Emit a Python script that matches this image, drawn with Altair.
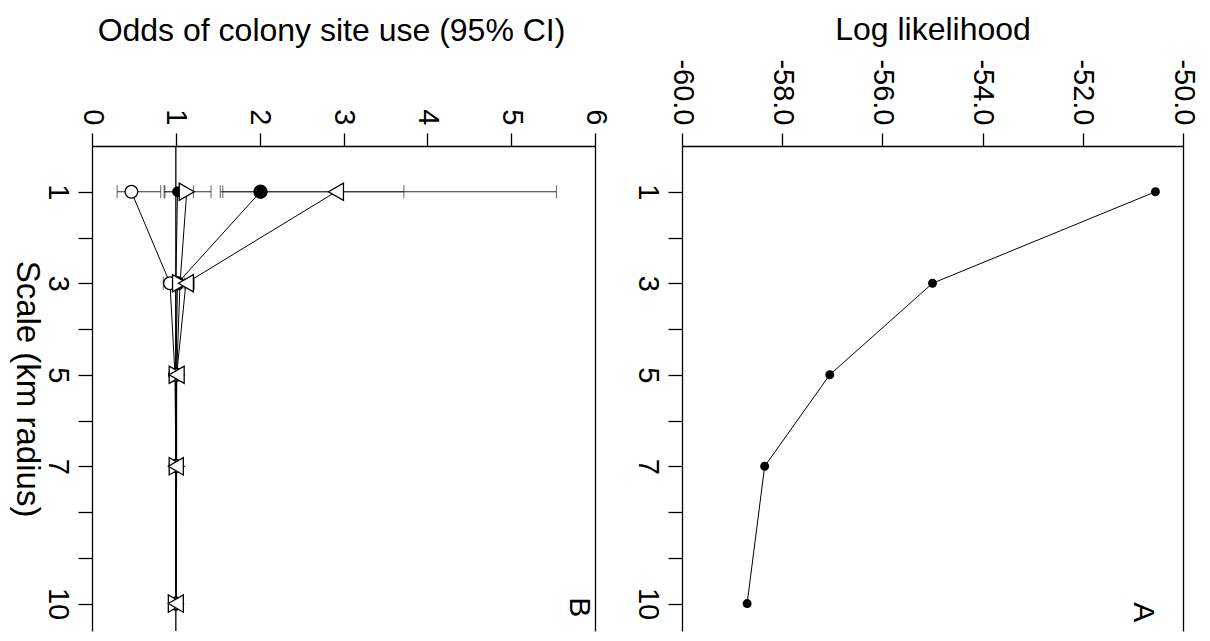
import altair as alt
import pandas as pd

FONT = "Liberation Sans"

# ---------------- data ----------------
scales = [1, 3, 5, 7, 10]

# Panel A: log likelihood by scale
loglik = [-50.55, -55.0, -57.05, -58.35, -58.7]

# Panel B: odds of colony site use (95% CI) per variable and scale
# (listed in drawing order: filled markers first, open markers on top)
series_names = ["V1", "V5", "V2", "V4", "V3"]
odds_v1 = [2.01, 1.02, 1.00, 1.00, 1.00]   # filled large circle
lo_v1 = [1.56, 0.95, 0.98, 0.99, 0.99]
hi_v1 = [3.72, 1.10, 1.03, 1.02, 1.01]
odds_v5 = [1.02, 1.00, 1.00, 1.00, 1.00]   # small filled circle
lo_v5 = [0.86, 0.95, 0.97, 0.98, 0.99]
hi_v5 = [1.21, 1.06, 1.03, 1.02, 1.01]
odds_v2 = [0.47, 0.93, 0.99, 1.00, 1.00]   # open circle
lo_v2 = [0.30, 0.85, 0.96, 0.98, 0.99]
hi_v2 = [0.82, 1.02, 1.02, 1.02, 1.01]
odds_v4 = [1.13, 1.05, 1.01, 1.01, 1.00]   # open triangle (right)
lo_v4 = [0.87, 0.96, 0.98, 0.99, 0.99]
hi_v4 = [1.42, 1.15, 1.04, 1.03, 1.01]
odds_v3 = [2.91, 1.12, 1.01, 1.00, 1.00]   # open triangle (left)
lo_v3 = [1.53, 1.02, 0.98, 0.98, 0.99]
hi_v3 = [5.54, 1.22, 1.04, 1.02, 1.01]

series_shapes = ["circle", "circle", "circle", "triangle-right", "triangle-left"]
series_fills = ["black", "black", "white", "white", "white"]
series_sizes = [170, 90, 160, 300, 300]

reference_odds = [1]

panel_letters_a = ["A"]
letter_a_x = [-50.8]
letter_a_y = [10.19]
panel_letters_b = ["B"]
letter_b_x = [5.81]
letter_b_y = [10.08]

a_ticks = [-60, -58, -56, -54, -52, -50]
b_ticks = [0, 1, 2, 3, 4, 5, 6]
scale_ticks = [1, 2, 3, 4, 5, 6, 7, 8, 9, 10]

# ---------------- tables ----------------
df_a = pd.DataFrame({"scale": scales, "ll": loglik})

all_odds = [odds_v1, odds_v5, odds_v2, odds_v4, odds_v3]
all_lo = [lo_v1, lo_v5, lo_v2, lo_v4, lo_v3]
all_hi = [hi_v1, hi_v5, hi_v2, hi_v4, hi_v3]
rows = []
for name, o, l, h in zip(series_names, all_odds, all_lo, all_hi):
    for s, ov, lv, hv in zip(scales, o, l, h):
        rows.append({"series": name, "scale": s, "odds": ov, "lo": lv, "hi": hv})
df_b = pd.DataFrame(rows)
df_ref = pd.DataFrame({"odds": reference_odds})
df_la = pd.DataFrame({"t": panel_letters_a, "x": letter_a_x, "y": letter_a_y})
df_lb = pd.DataFrame({"t": panel_letters_b, "x": letter_b_x, "y": letter_b_y})

W_B = 503
W_A = 501
H = 485
Y_DOMAIN = [0, 10.6]

LABEL_FS = 29
TITLE_FS = 32

Y_SCALE = alt.Scale(domain=Y_DOMAIN, nice=False, zero=False, reverse=True)


def y_left(title):
    return alt.Y(
        "scale:Q",
        scale=Y_SCALE,
        axis=alt.Axis(
            orient="left",
            values=scale_ticks,
            labelExpr="(datum.value == 1 || datum.value == 3 || datum.value == 5 || datum.value == 7 || datum.value == 10) ? datum.label : ''",
            labelAngle=90,
            labelAlign="center",
            labelBaseline="top",
            labelFontSize=LABEL_FS,
            labelPadding=7,
            tickSize=14,
            title=title if title else "",
            titleAngle=90,
            titleBaseline="top",
            titleFontSize=33,
            titlePadding=0,
        ),
    )


def y_plain():
    return alt.Y("scale:Q", scale=Y_SCALE, axis=None)


def y_right():
    return alt.Y(
        "scale:Q",
        scale=Y_SCALE,
        axis=alt.Axis(orient="right", labels=False, ticks=False, title="", domain=True),
    )


# ---------------- panel A ----------------
xa = alt.X(
    "ll:Q",
    scale=alt.Scale(domain=[-60, -50], nice=False, zero=False),
    axis=alt.Axis(
        orient="top",
        values=a_ticks,
        labelExpr="(datum.value < 0 ? '-' : '') + format(abs(datum.value), '.1f')",
        labelAngle=90,
        labelAlign="right",
        labelBaseline="middle",
        labelFontSize=LABEL_FS,
        labelPadding=8,
        tickSize=13,
        title="Log likelihood",
        titleFontSize=TITLE_FS,
        titlePadding=12,
    ),
)

base_a = alt.Chart(df_a)
line_a = base_a.mark_line(color="black", strokeWidth=1).encode(x=xa, y=y_left(None), order="scale:Q")
pts_a = base_a.mark_circle(color="black", size=80, opacity=1).encode(x="ll:Q", y=y_plain())
border_a = base_a.mark_point(opacity=0).encode(x="ll:Q", y=y_right())
letter_a = alt.Chart(df_la).mark_text(
    angle=90, fontSize=30, font=FONT, color="black", align="center", baseline="middle"
).encode(x=alt.X("ll:Q"), y=y_plain(), text="t:N").transform_calculate(ll="datum.x", scale="datum.y")

panel_a = (
    alt.layer(line_a, pts_a, letter_a, border_a)
    .resolve_axis(y="independent")
    .properties(width=W_A, height=H)
)

# ---------------- panel B ----------------
xb = alt.X(
    "odds:Q",
    scale=alt.Scale(domain=[0, 6], nice=False, zero=False),
    axis=alt.Axis(
        orient="top",
        values=b_ticks,
        format="d",
        labelAngle=90,
        labelAlign="right",
        labelBaseline="middle",
        labelFontSize=LABEL_FS,
        labelPadding=8,
        tickSize=13,
        title="Odds of colony site use (95% CI)",
        titleFontSize=TITLE_FS,
        titlePadding=61,
        titleX=239,
    ),
)

base_b = alt.Chart(df_b)
ref_b = alt.Chart(df_ref).mark_rule(color="black", strokeWidth=1.3).encode(x="odds:Q")
lines_b = base_b.mark_line(color="black", strokeWidth=1).encode(
    x=xb, y=y_left("Scale (km radius)"), detail="series:N", order="scale:Q"
)
err_b = base_b.mark_rule(color="#333333", strokeWidth=1).encode(x="lo:Q", x2="hi:Q", y=y_plain())
cap_lo = base_b.mark_tick(color="#222222", orient="vertical", size=13, thickness=1).encode(
    x="lo:Q", y=y_plain()
)
cap_hi = base_b.mark_tick(color="#222222", orient="vertical", size=13, thickness=1).encode(
    x="hi:Q", y=y_plain()
)

point_layers = []
for name, shp, fll, sz in zip(series_names, series_shapes, series_fills, series_sizes):
    point_layers.append(
        base_b.transform_filter(alt.datum.series == name)
        .mark_point(shape=shp, filled=True, fill=fll, stroke="black", strokeWidth=1.3, size=sz, opacity=1)
        .encode(x="odds:Q", y=y_plain())
    )

border_b = base_b.mark_point(opacity=0).encode(x="odds:Q", y=y_right())
letter_b = alt.Chart(df_lb).mark_text(
    angle=90, fontSize=30, font=FONT, color="black", align="center", baseline="middle"
).encode(x="odds:Q", y=y_plain(), text="t:N").transform_calculate(odds="datum.x", scale="datum.y")

panel_b = (
    alt.layer(ref_b, lines_b, err_b, cap_lo, cap_hi, *point_layers, letter_b, border_b)
    .resolve_axis(y="independent")
    .properties(width=W_B, height=H)
)

chart = (
    alt.hconcat(panel_b, panel_a, spacing=22)
    .properties(padding={"left": 0, "top": 5, "right": 5, "bottom": 0})
    .configure_view(stroke=None)
    .configure_axis(
        labelFont=FONT,
        titleFont=FONT,
        labelColor="black",
        titleColor="black",
        domainColor="black",
        tickColor="black",
        domainWidth=1.3,
        tickWidth=1.3,
        titleFontWeight="normal",
        grid=False,
    )
)

chart.save("out.html", embed_options={"renderer": "svg", "actions": False})
